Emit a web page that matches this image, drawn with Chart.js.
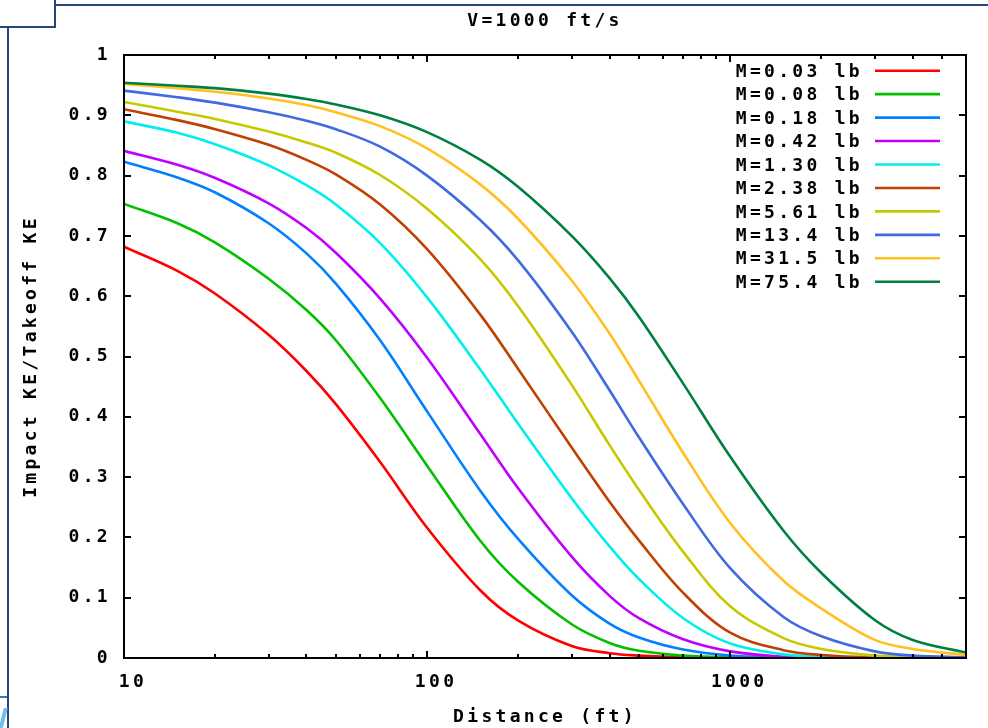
<!DOCTYPE html>
<html>
<head>
    <title>Impact KE vs distance</title>
    <script src="https://cdn.jsdelivr.net/npm/chart.js@4.4.1/dist/chart.umd.min.js"></script>
    <style>
        body { margin: 0; background: #fff; }
        #wrap { position: relative; width: 988px; height: 728px; overflow: hidden; }
        .deco { position: absolute; background: #25497c; }
    </style>
</head>
<body>
<div id="wrap">
    <canvas id="myChart" width="988" height="728"></canvas>
    <!-- bits of the window frame visible in the screenshot -->
    <div class="deco" style="left:54px;top:4px;width:934px;height:2px"></div>
    <div style="position:absolute;left:-2px;top:-2px;width:54px;height:26px;border:2px solid #25497c;background:#fff"></div>
    <div class="deco" style="left:7px;top:27px;width:2px;height:701px"></div>
    <div class="deco" style="left:0;top:696px;width:7px;height:2px;background:#4a70a8"></div>
    <div class="deco" style="left:1px;top:708px;width:4px;height:22px;background:#6cc0ee;transform:skewX(-14deg)"></div>
</div>

<script>
    // distance (ft), log axis
    const distances = [10, 15, 20, 30, 40, 50, 70, 100, 150, 200, 300, 400, 500, 700, 1000, 1500, 2000, 3000, 4000, 6000];

    const massLabels = ['M=0.03 lb', 'M=0.08 lb', 'M=0.18 lb', 'M=0.42 lb', 'M=1.30 lb',
                        'M=2.38 lb', 'M=5.61 lb', 'M=13.4 lb', 'M=31.5 lb', 'M=75.4 lb'];
    const lineColors = ['#ff0000', '#00c000', '#0080ff', '#c000ff', '#00eeee',
                        '#c04000', '#c8c800', '#4169e1', '#ffc020', '#008040'];

    // Impact KE / Takeoff KE, one list per mass
    const ke003 = [0.682, 0.642, 0.604, 0.536, 0.476, 0.421, 0.325, 0.216, 0.112, 0.062, 0.020, 0.008, 0.004, 0.001, 0, 0, 0, 0, 0, 0];
    const ke008 = [0.753, 0.721, 0.689, 0.629, 0.577, 0.527, 0.431, 0.319, 0.194, 0.126, 0.056, 0.025, 0.012, 0.004, 0.001, 0, 0, 0, 0, 0];
    const ke018 = [0.823, 0.797, 0.772, 0.721, 0.671, 0.621, 0.527, 0.409, 0.277, 0.197, 0.104, 0.057, 0.034, 0.014, 0.004, 0.001, 0, 0, 0, 0];
    const ke042 = [0.841, 0.818, 0.796, 0.754, 0.713, 0.672, 0.596, 0.498, 0.371, 0.281, 0.168, 0.103, 0.066, 0.031, 0.011, 0.002, 0, 0, 0, 0];
    const ke130 = [0.890, 0.871, 0.852, 0.817, 0.784, 0.752, 0.688, 0.598, 0.478, 0.388, 0.265, 0.185, 0.131, 0.066, 0.024, 0.006, 0.002, 0, 0, 0];
    const ke238 = [0.910, 0.892, 0.877, 0.851, 0.826, 0.802, 0.752, 0.678, 0.569, 0.479, 0.349, 0.259, 0.195, 0.108, 0.042, 0.013, 0.005, 0.001, 0, 0];
    const ke561 = [0.922, 0.906, 0.894, 0.873, 0.855, 0.838, 0.801, 0.745, 0.661, 0.583, 0.453, 0.353, 0.279, 0.176, 0.086, 0.033, 0.015, 0.004, 0.002, 0];
    const ke134 = [0.941, 0.930, 0.921, 0.905, 0.891, 0.877, 0.848, 0.800, 0.726, 0.659, 0.541, 0.444, 0.366, 0.255, 0.149, 0.068, 0.036, 0.011, 0.004, 0.001];
    const ke315 = [0.952, 0.945, 0.939, 0.928, 0.917, 0.905, 0.882, 0.845, 0.785, 0.728, 0.626, 0.538, 0.460, 0.340, 0.224, 0.128, 0.082, 0.030, 0.015, 0.005];
    const ke754 = [0.954, 0.949, 0.945, 0.936, 0.927, 0.918, 0.900, 0.872, 0.826, 0.781, 0.700, 0.630, 0.566, 0.455, 0.334, 0.211, 0.141, 0.063, 0.030, 0.009];

    const allSeries = [ke003, ke008, ke018, ke042, ke130, ke238, ke561, ke134, ke315, ke754];

    // tick marks / labels
    const xTickVals = [10, 20, 30, 40, 50, 60, 70, 80, 90, 100, 200, 300, 400, 500, 600, 700, 800, 900,
                       1000, 2000, 3000, 4000, 5000];
    const xTickLabels = {10: '10', 100: '100', 1000: '1000'};
    const yTickVals = [0, 0.1, 0.2, 0.3, 0.4, 0.5, 0.6, 0.7, 0.8, 0.9, 1];
    const yTickLabels = ['0', '0.1', '0.2', '0.3', '0.4', '0.5', '0.6', '0.7', '0.8', '0.9', '1'];

    const FONT = 'DejaVu Sans Mono';
    const WEIGHT = 'bold';

    const datasets = allSeries.map((vals, i) => ({
        label: massLabels[i],
        data: distances.map((d, j) => ({x: d, y: vals[j]})),
        borderColor: lineColors[i],
        backgroundColor: lineColors[i],
        borderWidth: 2.6,
        pointRadius: 0,
        tension: 0.35,
        order: allSeries.length - i
    }));

    // gnuplot look: letter spacing, frame, inward ticks, key box
    const gnuplotLook = {
        id: 'gnuplotLook',
        beforeDraw(chart) {
            chart.ctx.letterSpacing = '3.3px';
        },
        afterDraw(chart) {
            const ctx = chart.ctx;
            const a = chart.chartArea;
            const xs = chart.scales.x;
            const ys = chart.scales.y;
            ctx.save();
            ctx.strokeStyle = '#000';
            ctx.lineWidth = 2;
            ctx.beginPath();
            ys.ticks.forEach(t => {
                const py = Math.round(ys.getPixelForValue(t.value));
                ctx.moveTo(a.left, py); ctx.lineTo(a.left + 7, py);
                ctx.moveTo(a.right, py); ctx.lineTo(a.right - 7, py);
            });
            xs.ticks.forEach(t => {
                const px = Math.round(xs.getPixelForValue(t.value));
                const len = xTickLabels[t.value] ? 7 : 4;
                ctx.moveTo(px, a.bottom); ctx.lineTo(px, a.bottom - len);
                ctx.moveTo(px, a.top); ctx.lineTo(px, a.top + len);
            });
            ctx.stroke();
            ctx.strokeRect(a.left, a.top, a.right - a.left, a.bottom - a.top);

            // key, top right
            ctx.font = WEIGHT + ' 18px "' + FONT + '"';
            ctx.textAlign = 'right';
            ctx.textBaseline = 'middle';
            ctx.fillStyle = '#000';
            chart.data.datasets.forEach((ds, i) => {
                const y = 70.7 + i * 23.45;
                ctx.fillText(ds.label, 863, y + 1.5);
                ctx.strokeStyle = ds.borderColor;
                ctx.lineWidth = 2.6;
                ctx.beginPath();
                ctx.moveTo(875, y); ctx.lineTo(940, y);
                ctx.stroke();
            });
            ctx.restore();
        }
    };

    const ctx = document.getElementById('myChart');
    const myChart = new Chart(ctx, {
        type: 'line',
        data: { datasets: datasets },
        plugins: [gnuplotLook],
        options: {
            responsive: false,
            animation: false,
            devicePixelRatio: 1,
            layout: { padding: { left: 0, top: 0, right: 22, bottom: 0 } },
            plugins: {
                legend: { display: false },
                tooltip: { enabled: false },
                title: {
                    display: true,
                    text: 'V=1000 ft/s',
                    fullSize: false,
                    color: '#000',
                    font: { family: FONT, size: 18, weight: WEIGHT },
                    padding: { top: 11, bottom: 22.4 }
                }
            },
            scales: {
                x: {
                    type: 'logarithmic',
                    min: 10,
                    max: 6000,
                    afterBuildTicks: s => { s.ticks = xTickVals.map(v => ({value: v})); },
                    afterFit: s => { s.height = 70; },
                    grid: { display: false, drawTicks: false, tickLength: 0 },
                    border: { display: false },
                    ticks: {
                        autoSkip: false,
                        maxRotation: 0,
                        padding: 14,
                        labelOffset: 9,
                        color: '#000',
                        font: { family: FONT, size: 18, weight: WEIGHT },
                        callback: v => xTickLabels[v] || ''
                    },
                    title: {
                        display: true,
                        text: 'Distance (ft)',
                        color: '#000',
                        font: { family: FONT, size: 18, weight: WEIGHT },
                        padding: { top: 0, bottom: 0 }
                    }
                },
                y: {
                    min: 0,
                    max: 1,
                    afterBuildTicks: s => { s.ticks = yTickVals.map(v => ({value: v})); },
                    afterFit: s => { s.width = 124; },
                    grid: { display: false, drawTicks: false, tickLength: 0 },
                    border: { display: false },
                    ticks: {
                        padding: 13,
                        color: '#000',
                        font: { family: FONT, size: 18, weight: WEIGHT },
                        callback: (v, i) => yTickLabels[i]
                    },
                    title: {
                        display: true,
                        text: 'Impact KE/Takeoff KE',
                        color: '#000',
                        font: { family: FONT, size: 18, weight: WEIGHT },
                        padding: { top: 21, bottom: 0 }
                    }
                }
            }
        }
    });
</script>
</body>
</html>
